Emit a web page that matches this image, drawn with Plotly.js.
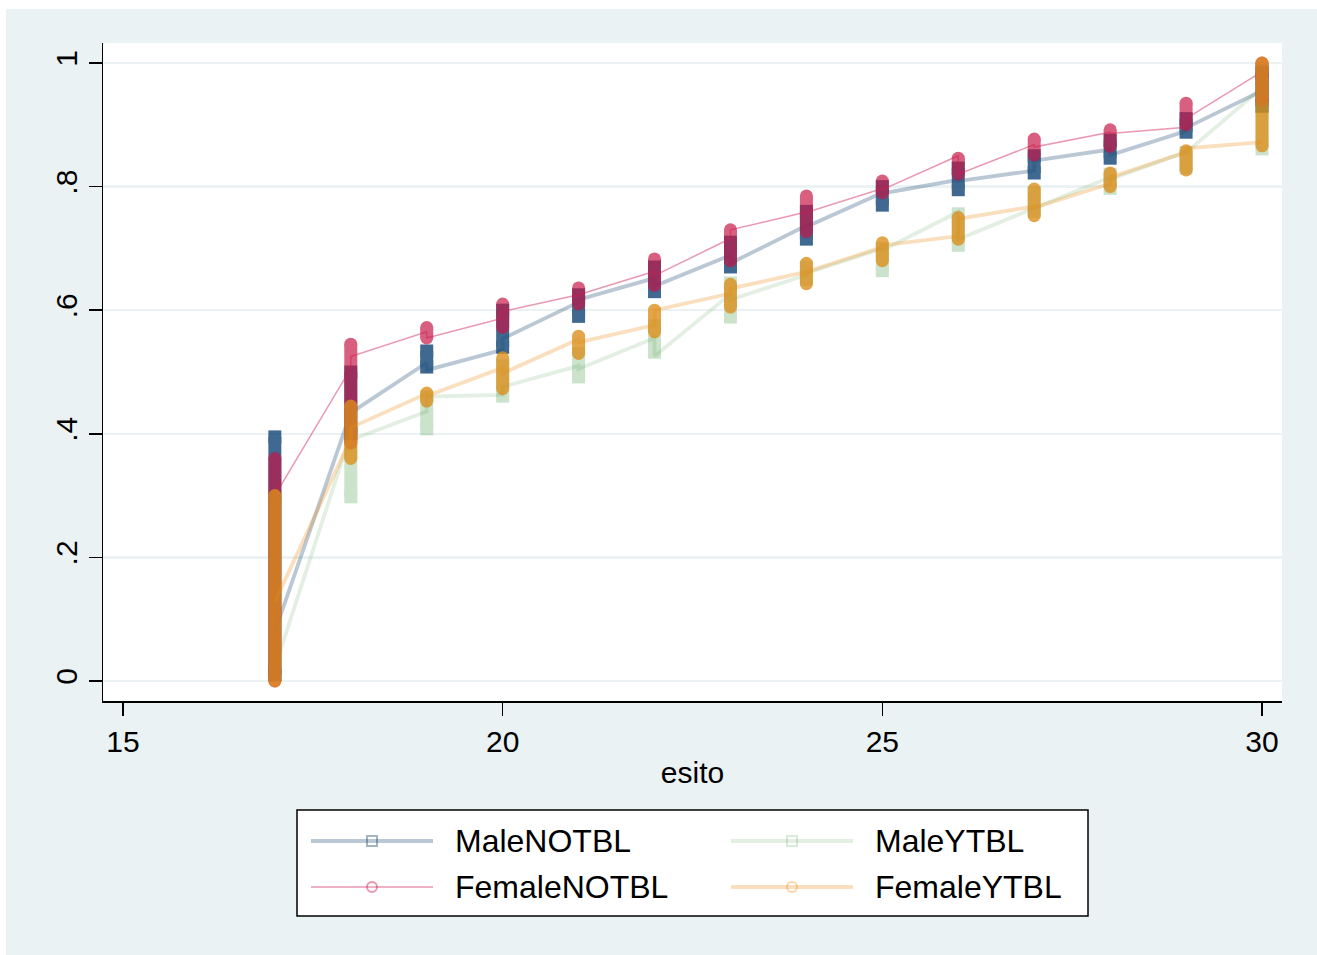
<!DOCTYPE html>
<html><head><meta charset="utf-8">
<script src="https://cdn.plot.ly/plotly-3.0.1.min.js"></script>
<style>
html,body{margin:0;padding:0;background:#fff;}
#bg{position:absolute;left:6px;top:9px;width:1311px;height:946px;background:#EAF2F3;}
#chart{position:absolute;left:0;top:0;width:1317px;height:955px;}
</style></head><body>
<div id="bg"></div><div id="chart"></div>
<script>
// ---- data ----
const esito = [17,18,19,20,21,22,23,24,25,26,27,28,29,30];
const seriesNames = ['MaleNOTBL','MaleYTBL','FemaleNOTBL','FemaleYTBL'];
const xTickVals = [15,20,25,30];
const yTickVals = [0,0.2,0.4,0.6,0.8,1];
const yTickText = ['0','.2','.4','.6','.8','1'];

// observed ranges of the stacked markers at each esito (min / max)
const maleNotMin = [0.010,0.400,0.508,0.540,0.590,0.630,0.670,0.715,0.770,0.795,0.822,0.846,0.888,0.930];
const maleNotMax = [0.395,0.500,0.534,0.600,0.625,0.670,0.710,0.760,0.800,0.830,0.850,0.875,0.910,0.985];
const maleYesMin = [0.010,0.298,0.408,0.461,0.492,0.532,0.589,0.650,0.664,0.705,0.760,0.797,0.830,0.861];
const maleYesMax = [0.300,0.400,0.460,0.510,0.530,0.575,0.644,0.670,0.700,0.756,0.790,0.820,0.855,0.990];
const femNotMin  = [0.000,0.385,0.555,0.572,0.610,0.640,0.680,0.727,0.790,0.820,0.851,0.865,0.900,0.940];
const femNotMax  = [0.360,0.545,0.572,0.610,0.636,0.683,0.730,0.785,0.809,0.846,0.877,0.892,0.935,1.000];
const femYesMin  = [0.000,0.360,0.453,0.473,0.530,0.565,0.605,0.643,0.680,0.715,0.753,0.800,0.827,0.866];
const femYesMax  = [0.300,0.445,0.466,0.523,0.558,0.600,0.642,0.676,0.709,0.750,0.796,0.822,0.858,1.000];

// connecting line: value where it enters / leaves each esito column
const maleNotIn  = [0.080,0.430,0.515,0.536,0.613,0.652,0.689,0.737,0.790,0.811,0.826,0.860,0.890,0.955];
const maleNotOut = [0.080,0.434,0.503,0.554,0.617,0.639,0.676,0.735,0.789,0.809,0.842,0.851,0.895,0.955];
const maleYesIn  = [0.022,0.400,0.436,0.463,0.510,0.555,0.626,0.657,0.700,0.759,0.765,0.815,0.856,0.960];
const maleYesOut = [0.022,0.390,0.460,0.476,0.505,0.526,0.617,0.660,0.697,0.715,0.765,0.812,0.855,0.960];
const femNotIn   = [0.300,0.506,0.565,0.587,0.624,0.663,0.716,0.759,0.797,0.850,0.868,0.888,0.896,0.986];
const femNotOut  = [0.300,0.525,0.555,0.598,0.625,0.656,0.730,0.758,0.795,0.820,0.864,0.886,0.910,0.986];
const femYesIn   = [0.128,0.392,0.465,0.507,0.553,0.576,0.627,0.661,0.702,0.720,0.768,0.805,0.856,0.872];
const femYesOut  = [0.128,0.410,0.461,0.498,0.548,0.600,0.635,0.662,0.705,0.748,0.766,0.815,0.862,0.872];

// ---- styles ----
const styles = [
  {min:maleNotMin,max:maleNotMax,lin:maleNotIn,lout:maleNotOut,col:'rgb(30,80,125)',op:0.85,sym:'square',
   line:'rgba(26,71,111,0.3)',lw:3.8,leg:'rgba(26,71,111,0.4)'},
  {min:maleYesMin,max:maleYesMax,lin:maleYesIn,lout:maleYesOut,col:'rgb(60,150,60)',op:0.26,sym:'square',
   line:'rgba(60,150,60,0.15)',lw:3.8,leg:'rgba(60,150,60,0.2)'},
  {min:femNotMin,max:femNotMax,lin:femNotIn,lout:femNotOut,col:'rgb(198,20,69)',op:0.68,sym:'circle',
   line:'rgba(214,50,100,0.5)',lw:1.5,leg:'rgba(214,50,100,0.5)'},
  {min:femYesMin,max:femYesMax,lin:femYesIn,lout:femYesOut,col:'rgb(220,142,25)',op:0.78,sym:'circle',
   line:'rgba(240,150,40,0.3)',lw:3.8,leg:'rgba(240,150,40,0.4)'}
];

const traces = [];
styles.forEach((s,k)=>{
  const lx=[], ly=[];
  esito.forEach((x,i)=>{ lx.push(x,x); ly.push(s.lin[i], s.lout[i]); });
  traces.push({type:'scatter',mode:'lines',x:lx,y:ly,line:{color:s.line,width:s.lw},
    hoverinfo:'skip',showlegend:false,name:seriesNames[k]});
  const cx=[], cy=[];
  esito.forEach((x,i)=>{ cx.push(x,x,null); cy.push(s.min[i], s.max[i], null); });
  traces.push({type:'scatter',mode:'lines+markers',x:cx,y:cy,connectgaps:false,
    line:{color:s.col,width:13},marker:{color:s.col,size:13,symbol:s.sym,line:{width:0}},
    opacity:s.op,hoverinfo:'skip',showlegend:false,name:seriesNames[k]});
});

// ---- custom legend ----
const PL=103, PR=1282, PT=43, PB=701;
const px = v => (v-PL)/(PR-PL);
const py = v => (PB-v)/(PB-PT);
const shapes = [{type:'rect',xref:'paper',yref:'paper',x0:px(297),x1:px(1088),y0:py(916),y1:py(810),
  fillcolor:'#ffffff',line:{color:'#000',width:1.5},layer:'above'}];
const annotations = [];
seriesNames.forEach((n,i)=>{
  const s = styles[i];
  const c = i%2, r = Math.floor(i/2);
  const dx = c*420, yy = 841 + r*46;
  shapes.push({type:'line',xref:'paper',yref:'paper',x0:px(311+dx),x1:px(433+dx),y0:py(yy),y1:py(yy),
    line:{color:s.line,width:s.lw},layer:'above'});
  shapes.push({type:s.sym==='square'?'rect':'circle',xref:'paper',yref:'paper',
    x0:px(367+dx),x1:px(377+dx),y0:py(yy+5),y1:py(yy-5),
    fillcolor:'rgba(255,255,255,0)',line:{color:s.leg,width:2},layer:'above'});
  annotations.push({xref:'paper',yref:'paper',x:px(453+dx),y:py(yy),text:n,showarrow:false,
    xanchor:'left',yanchor:'middle',font:{family:'Liberation Sans, Arial, sans-serif',size:32,color:'#000'}});
});

const layout = {
  width:1317,height:955,
  margin:{l:PL,r:1317-PR,t:PT,b:955-PB,pad:0},
  paper_bgcolor:'rgba(0,0,0,0)',plot_bgcolor:'#ffffff',
  font:{family:'Liberation Sans, Arial, sans-serif',color:'#000'},
  showlegend:false,hovermode:false,
  xaxis:{range:[14.737,30.263],tickvals:xTickVals,ticktext:xTickVals.map(String),
    ticks:'outside',ticklen:13,tickwidth:1.5,tickcolor:'#000',
    showline:true,linecolor:'#000',linewidth:1.5,showgrid:false,zeroline:false,
    tickfont:{size:30},title:{text:'esito',font:{size:30},standoff:5}},
  yaxis:{range:[-0.0324,1.0324],tickvals:yTickVals,ticktext:yTickText,
    ticks:'outside',ticklen:13,tickwidth:1.5,tickcolor:'#000',tickangle:-90,
    showline:true,linecolor:'#000',linewidth:1.5,showgrid:true,gridcolor:'#EAF2F3',gridwidth:2.5,zeroline:false,
    tickfont:{size:30}},
  shapes:shapes,annotations:annotations
};
Plotly.newPlot('chart',traces,layout,{displayModeBar:false,staticPlot:true});
</script>
</body></html>
